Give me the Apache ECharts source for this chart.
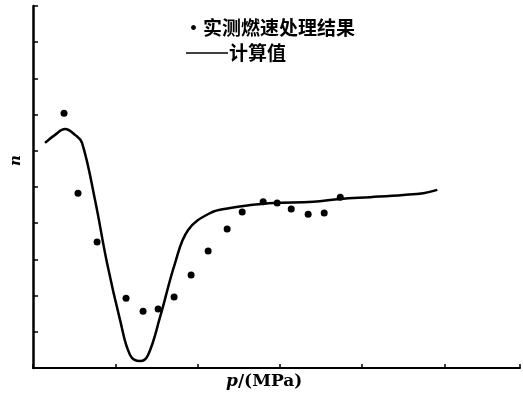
<!DOCTYPE html>
<html>
<head>
<meta charset="utf-8">
<script src="https://cdn.jsdelivr.net/npm/echarts@6/dist/echarts.min.js"></script>
<style>html,body{margin:0;padding:0;background:#fff;}#c{width:523px;height:399px;}</style>
</head>
<body>
<div id="c"></div>
<script>
// measured burning-rate points (x: pressure, y: n)
var measuredX = [0.377, 0.547, 0.779, 1.131, 1.338, 1.521, 1.715, 1.922, 2.129, 2.360, 2.543, 2.798, 2.968, 3.139, 3.345, 3.540, 3.735];
var measuredY = [7.04, 4.83, 3.48, 1.93, 1.57, 1.63, 1.96, 2.57, 3.23, 3.84, 4.31, 4.59, 4.56, 4.39, 4.25, 4.28, 4.72];
// computed curve
var calcX = [0.146, 0.268, 0.389, 0.511, 0.596, 0.754, 0.900, 1.058, 1.180, 1.302, 1.399, 1.545, 1.727, 1.886, 2.153, 2.397, 2.640, 2.920, 3.406, 3.735, 4.100, 4.501, 4.745, 4.915];
var calcY = [6.22, 6.44, 6.60, 6.44, 6.22, 4.64, 2.90, 1.33, 0.36, 0.19, 0.36, 1.41, 2.90, 3.81, 4.28, 4.42, 4.50, 4.56, 4.59, 4.67, 4.72, 4.78, 4.83, 4.92];
var legendMeasured = '·实测燃速处理结果';
var legendCalc = '计算值';
var xName = 'p/(MPa)';
var yName = 'n';

var measured = measuredX.map(function (x, i) { return [x, measuredY[i]]; });
var calc = calcX.map(function (x, i) { return [x, calcY[i]]; });

var chart = echarts.init(document.getElementById('c'));
var serif = 'DejaVu Serif, Liberation Serif, serif';
var cjk = '"Noto Sans CJK SC", sans-serif';
chart.setOption({
  animation: false,
  backgroundColor: '#fff',
  grid: { left: 33, right: 3, top: 6, bottom: 31 },
  xAxis: {
    type: 'value', min: 0, max: 5.92, interval: 1,
    axisLine: { lineStyle: { color: '#000', width: 2 } },
    axisTick: { inside: true, length: 4, lineStyle: { color: '#000', width: 1.5 } },
    axisLabel: { show: false },
    splitLine: { show: false }
  },
  yAxis: {
    type: 'value', min: 0, max: 10, interval: 1,
    axisLine: { show: true, lineStyle: { color: '#000', width: 2.5 } },
    axisTick: { show: true, inside: true, length: 5, lineStyle: { color: '#000', width: 1.5 } },
    axisLabel: { show: false },
    splitLine: { show: false }
  },
  series: [
    {
      type: 'line', data: calc, smooth: 0.4, showSymbol: false,
      lineStyle: { color: '#000', width: 2.5 }
    },
    {
      type: 'scatter', data: measured, symbolSize: 7,
      itemStyle: { color: '#000', opacity: 1 }
    }
  ],
  graphic: [
    { type: 'text', left: 184, top: 18, style: { text: legendMeasured, font: 'bold 19px ' + cjk, fill: '#000' } },
    { type: 'line', shape: { x1: 186, y1: 53, x2: 228, y2: 53 }, style: { stroke: '#000', lineWidth: 1.5 } },
    { type: 'text', left: 229, top: 43, style: { text: legendCalc, font: 'bold 19px ' + cjk, fill: '#000' } },
    { type: 'text', left: 226, top: 373, style: {
        text: '{i|p}{n|/(MPa)}',
        rich: { i: { font: 'italic bold 17px ' + serif, fill: '#000' }, n: { font: 'bold 17px ' + serif, fill: '#000' } }
      } },
    { type: 'text', x: 9, y: 166, rotation: Math.PI / 2, style: { text: yName, font: 'italic bold 15px ' + serif, fill: '#000' } }
  ]
});
</script>
</body>
</html>
